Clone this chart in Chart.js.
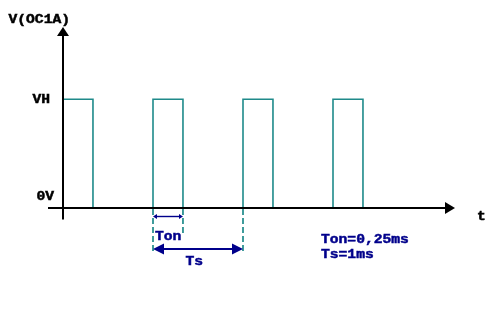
<!DOCTYPE html>
<html>
<head>
<meta charset="utf-8">
<script src="https://cdn.jsdelivr.net/npm/chart.js@4.4.1/dist/chart.umd.min.js"></script>
<style>
html,body{margin:0;padding:0;background:#fff;}
canvas{display:block;}
</style>
</head>
<body>
<canvas id="c" width="495" height="309"></canvas>
<script>
// ---- data (time in periods, voltage level 0 = 0V, 1 = VH) ----
const riseTimes = [0, 1, 2, 3];
const fallTimes = [0.333, 1.333, 2.333, 3.333];
const levelValues = [0, 1];
const levelLabels = ['0V', 'VH'];
const yAxisTitle = 'V(OC1A)';
const xAxisTitle = 't';
const tonLabel = 'Ton';
const tsLabel = 'Ts';
const noteLines = ['Ton=0,25ms', 'Ts=1ms'];

// build square wave points
const wavePoints = [];
for (let i = 0; i < riseTimes.length; i++) {
  wavePoints.push({x: riseTimes[i], y: levelValues[0]});
  wavePoints.push({x: riseTimes[i], y: levelValues[1]});
  wavePoints.push({x: fallTimes[i], y: levelValues[1]});
  wavePoints.push({x: fallTimes[i], y: levelValues[0]});
}

const TEAL = '#1f8a8a';
const NAVY = '#00008b';
const FONT = 'bold 12px "Liberation Mono", "DejaVu Sans Mono", monospace';
const SX = 1.22;

function txt(ctx, s, x, y, color) {
  ctx.save();
  ctx.font = FONT;
  ctx.fillStyle = color;
  ctx.strokeStyle = color;
  ctx.lineWidth = 0.45;
  ctx.textBaseline = 'alphabetic';
  ctx.textAlign = 'left';
  ctx.translate(x, y);
  ctx.scale(SX, 1);
  ctx.fillText(s, 0, 0);
  ctx.strokeText(s, 0, 0);
  ctx.restore();
}
function line(ctx, x1, y1, x2, y2, color, w, dash) {
  ctx.save();
  ctx.strokeStyle = color;
  ctx.lineWidth = w;
  ctx.setLineDash(dash || []);
  ctx.beginPath();
  ctx.moveTo(x1, y1);
  ctx.lineTo(x2, y2);
  ctx.stroke();
  ctx.restore();
}
function tri(ctx, pts, color) {
  ctx.save();
  ctx.fillStyle = color;
  ctx.beginPath();
  ctx.moveTo(pts[0][0], pts[0][1]);
  for (let i = 1; i < pts.length; i++) ctx.lineTo(pts[i][0], pts[i][1]);
  ctx.closePath();
  ctx.fill();
  ctx.restore();
}
function hArrow(ctx, x1, x2, y, color, w, hl, hw) {
  line(ctx, x1 + hl * 0.5, y, x2 - hl * 0.5, y, color, w);
  tri(ctx, [[x1, y], [x1 + hl, y - hw], [x1 + hl, y + hw]], color);
  tri(ctx, [[x2, y], [x2 - hl, y - hw], [x2 - hl, y + hw]], color);
}

const overlay = {
  id: 'overlay',
  afterDatasetsDraw(chart) {
    const ctx = chart.ctx;
    const xs = chart.scales.x, ys = chart.scales.y;
    const px = v => xs.getPixelForValue(v);
    const py = v => ys.getPixelForValue(v);
    const x0 = px(0), y0 = py(levelValues[0]), yH = py(levelValues[1]);

    // axes
    line(ctx, x0, y0 + 11.5, x0, 34, '#000', 2);
    tri(ctx, [[x0, 27], [x0 - 6, 36], [x0 + 6, 36]], '#000');
    line(ctx, 48, y0, 446, y0, '#000', 2);
    tri(ctx, [[455, y0], [445, y0 - 6], [445, y0 + 6]], '#000');

    // dashed guide lines
    const tA = riseTimes[1], tB = fallTimes[1], tC = riseTimes[2];
    line(ctx, px(tA), y0 + 1, px(tA), y0 + 45, TEAL, 1.7, [6, 3]);
    line(ctx, px(tB), y0 + 1, px(tB), y0 + 25, TEAL, 1.7, [6, 3]);
    line(ctx, px(tC), y0 + 1, px(tC), y0 + 45, TEAL, 1.7, [6, 3]);

    // Ton / Ts arrows
    hArrow(ctx, px(tA), px(tB), y0 + 8.5, NAVY, 1.4, 4, 2.5);
    hArrow(ctx, px(tA), px(tC), y0 + 41, NAVY, 2, 11, 5.5);
    txt(ctx, tonLabel, px(tA) + 2, y0 + 32.5, NAVY);
    txt(ctx, tsLabel, px(tA) + 32.5, y0 + 57, NAVY);

    // axis labels
    txt(ctx, yAxisTitle, 8.5, 22.5, '#000');
    txt(ctx, levelLabels[1], 32.5, yH + 3.5, '#000');
    txt(ctx, levelLabels[0], 36.5, y0 - 8, '#000');
    txt(ctx, xAxisTitle, 477, y0 + 12.5, '#000');

    // notes
    txt(ctx, noteLines[0], 321, y0 + 35.5, NAVY);
    txt(ctx, noteLines[1], 321, y0 + 50.5, NAVY);
  }
};

new Chart(document.getElementById('c'), {
  type: 'line',
  data: {
    datasets: [{
      data: wavePoints,
      borderColor: TEAL,
      borderWidth: 1.6,
      pointRadius: 0,
      tension: 0,
      fill: false
    }]
  },
  options: {
    responsive: false,
    animation: false,
    layout: {padding: 0},
    plugins: {legend: {display: false}, tooltip: {enabled: false}},
    scales: {
      x: {type: 'linear', display: false, min: -0.7, max: 4.8},
      y: {type: 'linear', display: false, min: -0.9292, max: 1.9135}
    }
  },
  plugins: [overlay]
});
</script>
</body>
</html>
